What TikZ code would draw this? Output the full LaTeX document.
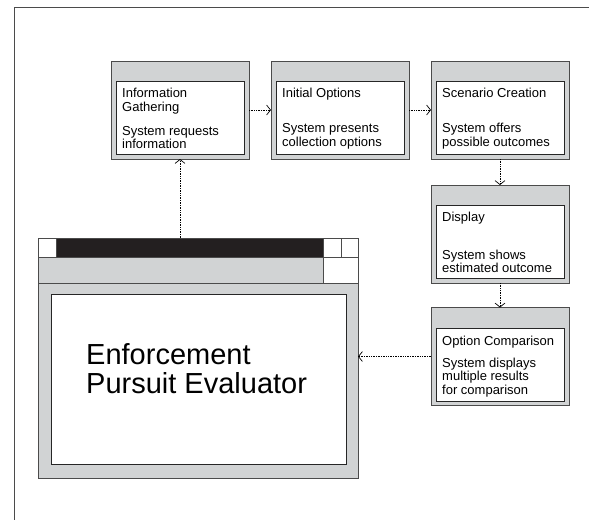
\documentclass[tikz,border=0pt]{standalone}
\usepackage{fontspec}
\setmainfont{Liberation Sans}
\usepackage{tikz}
\usetikzlibrary{positioning,arrows.meta}

\definecolor{wingray}{RGB}{209,211,212}
\definecolor{winline}{RGB}{75,75,75}
\definecolor{barblack}{RGB}{35,31,32}

\tikzset{
  win/.style={draw=winline, fill=wingray, line width=0.9pt, inner sep=0pt, outer sep=0pt,
    minimum width=138pt, minimum height=98pt},
  pane/.style={draw=black!85, fill=white, line width=0.8pt, inner sep=0pt, outer sep=0pt,
    minimum width=128pt, minimum height=73pt},
  head/.style={anchor=north west, align=left, inner sep=0pt,
    font=\fontsize{13}{13.5}\selectfont},
  body/.style={anchor=south west, align=left, inner sep=0pt,
    font=\fontsize{13}{13.5}\selectfont},
  part/.style={draw=winline, line width=0.9pt, inner sep=0pt, outer sep=0pt},
  flow/.style={densely dotted, line width=0.7pt, -{Straight Barb[length=4pt,width=10pt]}}
}

\begin{document}
\begin{tikzpicture}[x=1pt,y=-1pt]
\useasboundingbox (0,0) rectangle (589,520);
\draw[winline, line width=0.8pt] (589,7.5) -| (14,520);

% step windows
\node[win] (gather) at (180,110) {};
\node[pane] (gatherpane) at (180,117.5) {};
\node[head] (gatherhead) at ([shift={(6,7)}]gatherpane.north west) {Information\\Gathering};
\node[body] (gatherbody) at ([shift={(6,-5)}]gatherpane.south west) {System requests\\information};

\node[win] (initopt) at (340,110) {};
\node[pane] (initoptpane) at (340,117.5) {};
\node[head] (initopthead) at ([shift={(6,7)}]initoptpane.north west) {Initial Options};
\node[body] (initoptbody) at ([shift={(6,-5)}]initoptpane.south west) {System presents\\collection options};

\node[win] (scen) at (500,110) {};
\node[pane] (scenpane) at (500,117.5) {};
\node[head] (scenhead) at ([shift={(6,7)}]scenpane.north west) {Scenario Creation};
\node[body] (scenbody) at ([shift={(6,-5)}]scenpane.south west) {System offers\\possible outcomes};

\node[win] (disp) at (500,234) {};
\node[pane] (disppane) at (500,241.5) {};
\node[head] (disphead) at ([shift={(6,7)}]disppane.north west) {Display};
\node[body] (dispbody) at ([shift={(6,-5)}]disppane.south west) {System shows\\estimated outcome};

\node[win] (comp) at (500,356.5) {};
\node[pane] (comppane) at (500,364.5) {};
\node[head] (comphead) at ([shift={(6,8)}]comppane.north west) {Option Comparison};
\node[body] (compbody) at ([shift={(6,-4)}]comppane.south west) {System displays\\multiple results\\for comparison};

% main window
\node[part, fill=wingray, minimum width=320pt, minimum height=240pt] (evalwin) at (198,358) {};
\node[part, fill=white, minimum width=18pt, minimum height=19pt] (evalleft) at (47,247.5) {};
\node[part, fill=barblack, minimum width=267pt, minimum height=19pt] (evalbar) at (189.5,247.5) {};
\node[part, fill=white, minimum width=18pt, minimum height=19pt] (evalmin) at (332,247.5) {};
\node[part, fill=white, minimum width=17pt, minimum height=19pt] (evalmax) at (349.5,247.5) {};
\node[part, fill=wingray, minimum width=285pt, minimum height=26pt] (evalmenu) at (180.5,270) {};
\node[part, fill=white, minimum width=35pt, minimum height=26pt] (evalcorner) at (340.5,270) {};
\node[part, draw=black!85, fill=white, minimum width=295pt, minimum height=170pt] (evalpane) at (198.5,379) {};
\node[anchor=west, align=left, inner sep=0pt, font=\fontsize{29}{29}\selectfont] (evaltitle) at (86,369) {Enforcement\\Pursuit Evaluator};

% flow
\draw[flow] (gather.south |- evalbar.north) -- (gather.south);
\draw[flow] (gather) -- (initopt);
\draw[flow] (initopt) -- (scen);
\draw[flow] (scen) -- (disp);
\draw[flow] (disp) -- (comp);
\draw[flow] (comp.west) -- (comp.west -| evalwin.east);
\end{tikzpicture}
\end{document}
